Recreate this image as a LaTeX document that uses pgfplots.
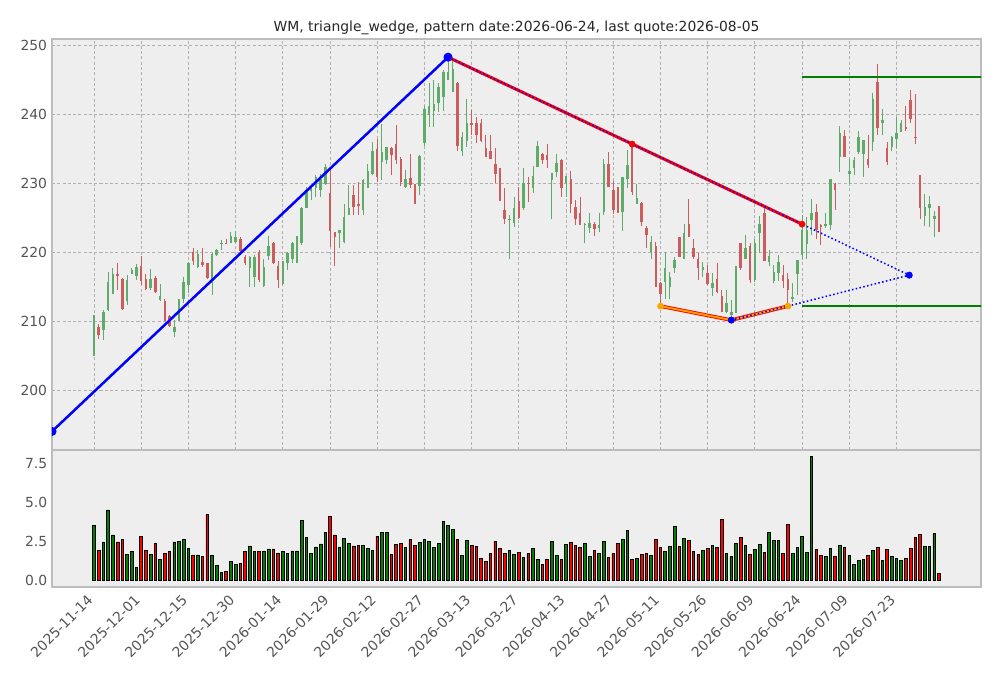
\documentclass[border=0pt]{standalone}
\usepackage{fontspec}
\setmainfont{DejaVu Sans}
\usepackage{pgfplots}
\usepackage{pgfplotstable}
\pgfplotsset{compat=1.18}
\definecolor{cup}{RGB}{96,170,106}
\definecolor{cdn}{RGB}{205,92,92}
\definecolor{vup}{RGB}{0,128,0}
\definecolor{vdn}{RGB}{255,0,0}
\definecolor{bg}{RGB}{238,238,238}
\definecolor{spine}{RGB}{188,188,188}
\definecolor{gridc}{RGB}{176,176,176}
\definecolor{tickc}{RGB}{85,85,85}
\definecolor{orng}{RGB}{255,165,0}
\definecolor{dgreen}{RGB}{0,128,0}

% up candles (close >= open)
\pgfplotstableread{
i O H L C V
0 207.5 210.9 204.9 210.5 3.50
2 208.7 211.6 207.3 211.3 2.46
3 211.7 217.2 211.5 215.7 4.53
4 213.9 217.7 213.9 216.9 2.91
7 213.0 216.7 212.4 216.0 1.65
8 216.9 217.8 216.9 217.4 1.82
9 216.6 218.3 216.0 217.9 0.81
12 214.9 217.6 214.6 216.1 1.65
14 213.1 215.4 212.9 213.7 1.32
17 208.4 210.2 207.7 209.2 2.46
18 210.1 213.3 210.0 212.1 2.52
19 213.3 216.5 212.6 215.7 2.61
20 215.3 218.6 214.1 218.4 2.03
22 217.9 220.4 217.8 219.8 1.62
25 215.5 219.9 213.8 219.8 1.56
26 219.6 220.5 219.5 220.3 0.92
27 221.2 221.8 220.4 221.4 0.47
29 221.4 223.0 221.3 222.4 1.18
30 221.5 223.1 221.3 222.2 0.98
33 217.8 219.5 215.0 219.4 2.20
34 216.5 219.6 215.0 219.3 1.82
36 215.1 219.1 215.0 217.9 1.82
37 219.5 222.4 218.9 220.9 2.01
40 215.4 218.8 215.3 218.7 1.82
41 218.4 220.1 217.4 219.9 1.69
42 219.0 221.5 218.5 221.3 1.88
43 221.1 222.4 218.4 221.4 1.88
44 221.3 226.6 221.1 226.5 3.87
45 226.5 229.5 226.4 229.0 2.78
46 228.9 229.8 227.6 229.6 1.69
47 229.4 231.2 228.0 231.0 2.14
48 229.1 231.4 228.1 230.7 2.33
49 230.0 232.9 229.8 232.4 3.10
52 222.8 223.3 220.6 223.2 2.14
53 221.5 227.1 221.3 225.2 2.71
54 225.4 229.8 225.4 226.5 2.39
57 226.1 230.6 225.4 230.5 2.22
58 229.4 232.9 229.3 231.8 2.05
59 231.4 236.0 231.2 234.7 1.94
61 233.1 238.7 230.5 234.6 3.08
62 233.4 235.3 232.9 235.3 3.08
66 229.5 231.9 229.4 230.6 2.11
69 229.6 234.1 228.3 234.0 2.44
70 235.9 241.2 235.5 240.9 2.63
71 240.0 244.6 238.2 241.3 2.50
72 240.6 245.0 238.2 241.6 2.11
73 241.7 244.6 240.4 244.0 2.37
74 242.6 246.5 240.5 246.2 3.79
75 245.0 248.3 245.0 246.2 3.53
76 243.3 248.0 243.3 246.6 3.28
78 234.8 237.5 234.0 236.8 1.59
79 236.2 242.3 235.3 238.8 2.56
88 224.7 225.5 219.1 224.9 1.92
89 224.3 228.1 223.7 226.5 1.66
91 226.4 232.2 226.2 230.1 1.47
93 229.3 232.5 228.6 231.1 2.05
94 232.4 236.2 232.4 235.4 1.34
97 230.5 231.5 224.9 231.5 2.50
98 231.7 234.3 230.9 233.0 1.59
100 230.1 231.1 228.1 231.1 2.31
104 224.0 224.3 221.4 224.2 2.37
105 223.6 225.7 222.8 224.3 1.53
107 223.6 225.7 222.9 224.0 1.72
108 225.9 233.5 225.4 232.9 2.50
112 225.9 231.0 223.1 230.9 2.63
113 230.7 234.9 229.3 232.7 3.21
115 227.1 230.0 227.1 227.9 1.40
118 220.1 222.4 219.1 221.5 1.59
121 215.7 220.0 213.3 217.7 1.85
122 215.0 217.2 213.3 216.5 2.18
123 217.7 219.4 217.0 218.9 3.47
125 219.1 224.2 219.0 222.8 2.69
129 217.4 218.6 216.5 217.9 1.92
131 214.8 217.0 213.6 215.6 2.24
134 211.3 214.5 211.2 212.6 1.72
135 210.9 213.1 210.2 211.4 1.53
136 211.4 218.0 211.2 218.0 2.37
138 219.1 222.5 219.1 220.6 2.24
140 216.0 222.0 215.7 221.4 1.98
141 222.8 225.3 219.9 224.2 2.31
143 218.6 220.4 218.0 219.5 3.08
144 215.8 218.2 215.5 217.1 2.56
145 217.0 219.6 215.9 218.6 2.56
148 213.2 215.5 212.8 213.5 1.72
149 216.9 218.9 213.8 218.9 2.11
150 219.6 225.4 219.1 223.2 2.82
151 221.2 225.2 219.1 223.2 1.79
152 224.7 227.7 222.5 225.7 8.00
155 223.8 225.7 223.5 224.2 1.53
156 224.0 230.7 223.3 230.7 2.05
158 233.9 238.3 231.7 237.3 2.24
160 231.4 233.6 230.0 231.8 1.59
161 232.2 233.9 231.2 233.4 1.01
162 234.6 237.6 234.3 236.7 1.27
163 234.3 236.4 231.0 236.3 1.34
165 236.0 243.1 234.8 242.3 1.92
167 238.8 240.9 237.0 239.2 1.27
169 235.3 236.9 234.7 236.7 1.53
170 236.5 239.7 235.1 237.3 1.40
171 237.5 239.3 237.5 238.8 1.27
176 225.3 228.5 223.8 226.6 2.18
177 226.4 228.2 223.7 227.0 2.18
178 224.9 226.0 222.3 225.3 3.02
}\up

% down candles (close < open)
\pgfplotstableread{
i O H L C V
1 209.1 209.6 207.4 208.0 1.90
5 216.9 218.4 214.6 216.6 2.46
6 216.2 216.3 211.7 211.8 2.61
10 218.0 219.5 215.3 215.9 2.84
11 216.1 216.8 214.5 214.7 1.90
13 216.3 216.6 214.1 214.2 2.39
15 212.9 213.2 210.0 210.1 1.69
16 210.8 210.9 209.1 209.3 1.82
21 220.0 220.6 218.2 218.8 1.62
23 218.6 220.6 217.9 218.2 1.50
24 218.4 218.5 216.2 216.3 4.25
28 221.4 222.0 221.2 221.2 0.53
31 222.0 222.3 220.1 220.2 1.05
32 219.4 219.6 218.2 218.4 1.82
35 220.1 220.3 215.7 216.0 1.82
38 221.4 221.5 218.3 218.5 2.01
39 218.0 218.8 214.8 216.0 1.75
50 228.6 232.2 220.8 223.1 4.12
51 222.9 223.0 218.0 222.2 2.91
55 228.3 229.8 225.4 226.6 2.20
56 227.1 230.2 225.4 226.7 2.26
60 235.0 236.5 230.2 231.0 2.82
63 235.2 235.3 231.2 234.1 1.66
64 235.7 238.5 232.9 233.4 2.31
65 233.6 233.9 229.6 230.2 2.37
67 230.8 234.3 229.4 229.8 2.63
68 229.4 229.9 227.1 228.1 2.24
77 244.6 244.7 234.8 235.5 2.63
80 238.8 240.7 237.0 238.5 2.24
81 238.8 239.7 235.9 237.1 2.18
82 238.8 239.4 236.0 236.2 1.40
83 235.2 237.0 233.8 233.8 1.21
84 234.8 237.0 233.6 233.6 1.72
85 232.9 235.1 230.1 231.4 2.50
86 232.2 232.3 227.5 227.5 2.05
87 226.2 229.3 224.1 224.9 1.72
90 227.4 229.5 224.9 225.0 1.79
92 230.1 231.0 227.3 229.9 1.72
95 234.3 234.4 232.9 233.4 1.01
96 234.2 235.8 232.3 233.4 1.34
99 233.4 233.5 228.1 229.4 1.34
101 230.7 231.8 225.7 227.0 2.44
102 226.6 227.6 224.0 224.8 2.24
103 225.7 228.1 224.0 224.0 2.11
106 224.1 224.4 222.4 223.4 1.92
109 232.8 234.6 229.5 229.5 1.47
110 229.1 230.4 225.6 226.1 1.72
111 228.9 229.5 225.7 227.3 2.37
114 235.7 235.8 228.3 228.8 1.34
116 227.2 227.3 223.8 224.4 1.66
117 223.6 223.8 220.6 222.5 1.72
119 220.9 221.5 215.0 215.0 2.63
120 215.5 215.7 212.2 214.0 2.11
124 222.2 222.3 219.3 219.4 2.18
126 224.2 227.7 222.3 222.3 2.56
127 220.6 221.9 219.1 219.4 1.85
128 219.1 219.9 216.0 217.7 1.66
130 217.0 218.2 215.3 215.4 2.05
132 216.1 218.4 214.1 214.2 2.11
133 213.7 214.6 211.3 211.3 3.92
137 221.3 221.4 217.4 217.7 2.76
139 220.9 221.3 215.6 216.0 1.66
142 225.7 226.4 218.8 218.8 1.79
146 216.7 218.2 214.8 215.9 1.72
147 216.2 217.0 212.2 214.6 3.60
153 225.9 227.0 221.9 223.2 1.98
154 224.0 224.1 221.1 223.7 1.59
157 230.0 230.1 226.2 229.0 1.53
159 236.9 237.8 233.8 233.9 2.11
164 233.5 237.0 232.3 232.7 1.59
166 244.8 247.3 237.0 238.0 2.11
168 235.1 236.0 232.7 233.1 1.98
172 238.2 241.2 237.7 237.9 1.40
173 242.2 243.6 238.8 239.4 2.05
174 236.8 243.0 235.8 236.7 2.76
175 231.2 231.3 224.9 226.4 2.95
179 226.6 226.7 223.0 224.3 0.43
}\dn

\pgfplotsset{
  base/.style={
    scale only axis, width=668.88pt, xmin=-8.9, xmax=187.9,
    axis background/.style={fill=bg},
    axis line style={draw=spine, line width=1.1pt},
    major tick length=0pt,
    tick label style={font=\fontsize{10}{12}\selectfont, text=tickc},
    /pgf/number format/assume math mode=true,
    xtick={0,10,...,170},
  },
  wick/.style={draw=none, mark=none, forget plot,
    error bars/.cd, y dir=plus, y explicit, error mark=none,
    error bar style={draw=#1, line width=0.75pt}},
  body/.style={draw=none, mark=none, forget plot,
    error bars/.cd, y dir=plus, y explicit, error mark=none,
    error bar style={draw=#1, line width=1.8pt}},
}

\begin{document}
\begin{tikzpicture}
\path[use as bounding box, fill=white] (-37.44pt,-164.16pt) rectangle (683.28pt,324pt);
\begin{axis}[base, at={(0,0)}, anchor=south west, height=295.92pt,
  ymin=191.3, ymax=251.0, ytick={200,210,...,250},
  xticklabels={},
  grid=major, grid style={draw=gridc, dash pattern=on 2.2pt off 1.6pt, line width=0.6pt},
  clip marker paths=true,
  title={WM, triangle\_wedge, pattern date:2026-06-24, last quote:2026-08-05},
  every axis title/.style={at={(0.5,1)}, anchor=base, yshift=5.6pt, font=\fontsize{10}{12}\selectfont, text=black!85},
]
% candles
\addplot[wick=cup] table[x=i, y=L, y error expr=\thisrow{H}-\thisrow{L}] {\up};
\addplot[body=cup] table[x=i, y=O, y error expr=\thisrow{C}-\thisrow{O}] {\up};
\addplot[wick=cdn] table[x=i, y=L, y error expr=\thisrow{H}-\thisrow{L}] {\dn};
\addplot[body=cdn] table[x=i, y=C, y error expr=\thisrow{O}-\thisrow{C}] {\dn};
% support / resistance levels
\addplot[dgreen, line width=1.1pt] coordinates {(150,245.45) (190,245.45)};
\addplot[dgreen, line width=1.1pt] coordinates {(150,212.2) (190,212.2)};
% pattern lines
\addplot[blue, line width=1.8pt, mark=*, mark size=2.3pt, mark options={fill=blue, draw=blue}] coordinates {(-8.9,194.0) (75,248.36)};
\addplot[red, line width=2.2pt] coordinates {(75,248.36) (150,224.1)};
\addplot[red, line width=2.6pt] coordinates {(120,212.2) (135,210.17) (147,212.2)};
\addplot[orng, line width=1.3pt] coordinates {(120,212.2) (135,210.17) (147,212.2)};
\addplot[blue, line width=1.1pt, dash pattern=on 1.1pt off 1.7pt] coordinates {(75,248.36) (150,224.1) (172.7,216.7)};
\addplot[blue, line width=1.1pt, dash pattern=on 1.1pt off 1.7pt] coordinates {(135,210.17) (147,212.2) (172.7,216.7)};
\addplot[only marks, mark=*, mark size=2.2pt, mark options={fill=red, draw=red}] coordinates {(114,235.74) (150,224.1)};
\addplot[only marks, mark=*, mark size=2.2pt, mark options={fill=orng, draw=orng}] coordinates {(120,212.2) (147,212.2)};
\addplot[only marks, mark=*, mark size=2.3pt, mark options={fill=blue, draw=blue}] coordinates {(135,210.17) (172.7,216.7) (75,248.36)};
\end{axis}
\begin{axis}[base, at={(0,0)}, anchor=north west, height=98.64pt,
  ymin=-0.45, ymax=8.4, ytick={0,2.5,5,7.5},
  yticklabel style={/pgf/number format/.cd, fixed, fixed zerofill, precision=1},
  xticklabels={2025-11-14,2025-12-01,2025-12-15,2025-12-30,2026-01-14,2026-01-29,2026-02-12,2026-02-27,2026-03-13,2026-03-27,2026-04-13,2026-04-27,2026-05-11,2026-05-26,2026-06-09,2026-06-24,2026-07-09,2026-07-23},
  xticklabel style={xshift=-5.5pt, rotate=45, anchor=north east},
  ybar, bar width=1.9pt,
]
\addplot[fill=vup, draw=black, line width=0.6pt, bar shift=0pt] table[x=i, y=V] {\up};
\addplot[fill=vdn, draw=black, line width=0.6pt, bar shift=0pt] table[x=i, y=V] {\dn};
\end{axis}
\end{tikzpicture}
\end{document}
